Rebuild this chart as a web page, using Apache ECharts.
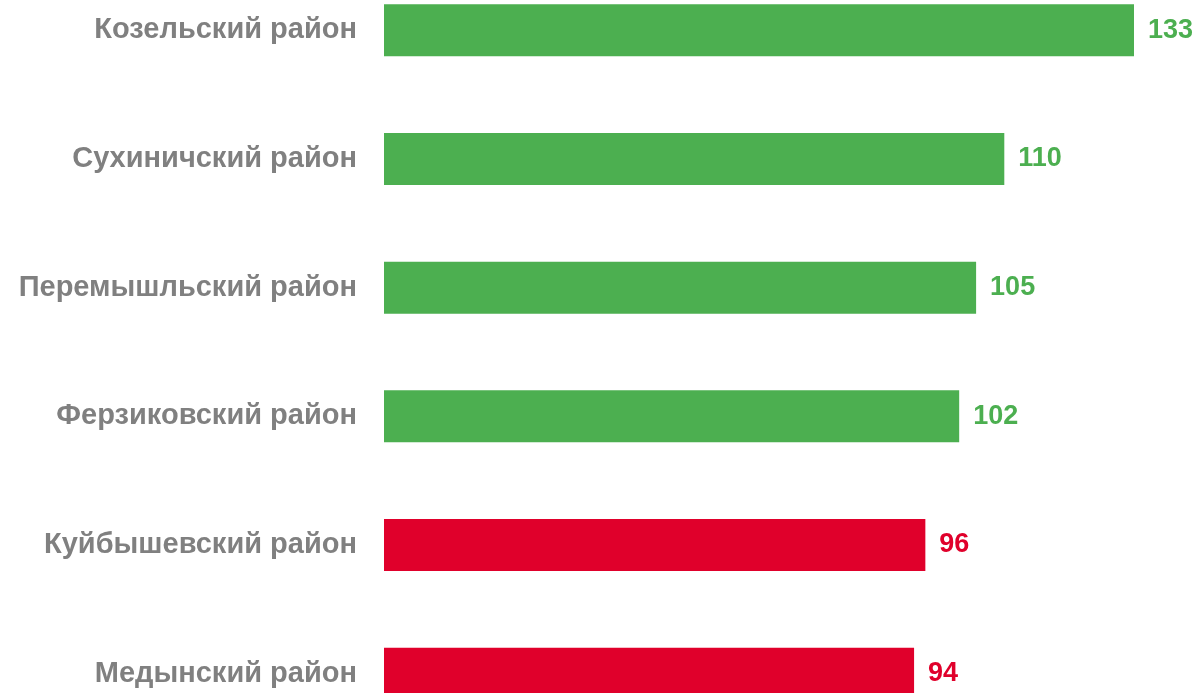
<!DOCTYPE html>
<html>
<head>
<meta charset="utf-8">
<script src="https://cdn.jsdelivr.net/npm/echarts@6/dist/echarts.min.js"></script>
<style>
html,body{margin:0;padding:0;background:#fff;overflow:hidden;width:1199px;height:693px;position:relative;}
#chart{position:absolute;left:0;top:-34px;width:1199px;height:772px;}
</style>
</head>
<body>
<div id="chart"></div>
<script>
const categories = ["Козельский район","Сухиничский район","Перемышльский район","Ферзиковский район","Куйбышевский район","Медынский район"];
const values = [133,110,105,102,96,94];
const threshold = 100;

const GREEN = '#4CAF50', RED = '#E0002B';
const chart = echarts.init(document.getElementById('chart'));
chart.setOption({
  animation:false,
  grid:{left:384,right:65,top:0,bottom:0,containLabel:false},
  xAxis:{type:'value',min:0,max:133,show:false},
  yAxis:{type:'category',data:categories,inverse:true,
    axisLine:{show:false},axisTick:{show:false},splitLine:{show:false},
    axisLabel:{margin:27,color:'#808080',fontSize:29,fontWeight:'bold',fontFamily:'Liberation Sans, Arial, sans-serif'}},
  series:[{type:'bar',barWidth:52,
    data:values.map(v=>({value:v,itemStyle:{color:v>=threshold?GREEN:RED},
      label:{color:v>=threshold?GREEN:RED}})),
    label:{show:true,position:'right',distance:14,fontSize:27,fontWeight:'bold',fontFamily:'Liberation Sans, Arial, sans-serif'}
  }]
});
</script>
</body>
</html>
